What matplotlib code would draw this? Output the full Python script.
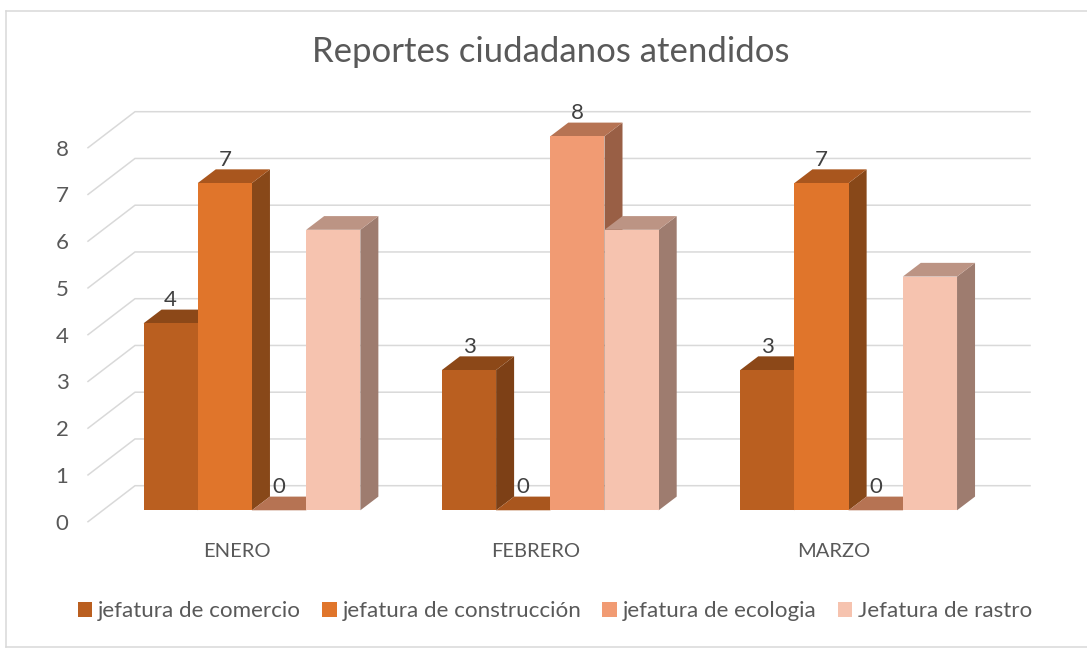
import matplotlib
matplotlib.use("Agg")
import matplotlib.pyplot as plt
from matplotlib.patches import Patch, Polygon
from matplotlib.lines import Line2D
from matplotlib.transforms import ScaledTranslation

categories = ["ENERO", "FEBRERO", "MARZO"]
series_names = ["jefatura de comercio", "jefatura de construcción",
                "jefatura de ecologia", "Jefatura de rastro"]
comercio = [4, 3, 3]
construccion = [7, 0, 7]
ecologia = [0, 8, 0]
rastro = [6, 6, 5]
series_values = [comercio, construccion, ecologia, rastro]
labelled_series = [True, True, True, False]
y_ticks = list(range(0, 9))

front_colors = ["#BA5F20", "#E0752B", "#F19B73", "#F6C3AF"]
side_colors = ["#7D4016", "#884819", "#995F45", "#9E7C6F"]
top_colors = ["#8C4818", "#A9561E", "#B67353", "#BC9484"]
GRID = "#D9D9D9"
TEXT = "#595959"
LABEL = "#404040"
FONT = "Lato"

W, H = 1087, 648
plt.rcParams["font.family"] = [FONT, "DejaVu Sans"]
fig = plt.figure(figsize=(W / 100, H / 100), dpi=100)

# Front plane of the 3-D box, in figure pixels
L, R, B, T = 88.0, 983.0, 510.3, 136.3
ax = fig.add_axes([L / W, 1 - B / H, (R - L) / W, (B - T) / H])
ax.set_xlim(-0.5, 2.5)
ax.set_ylim(0, 8)
for s in ax.spines.values():
    s.set_visible(False)

px_x = (R - L) / 3
px_y = (B - T) / 8

# Back wall gridlines and floor diagonals
wall_dx, wall_up, wall_down = 47.0 / px_x, 24.6 / px_y, 11.4 / px_y
for v in y_ticks:
    ax.plot([-0.5, -0.5 + wall_dx, 2.5 + wall_dx],
            [v - wall_down, v + wall_up, v + wall_up],
            color=GRID, lw=1.1, clip_on=False, zorder=1,
            solid_joinstyle="miter")

# Bars with faked depth
bar_w = 54.2 / px_x
shift = 14.8 / px_x
dx, dy = 18.0 / px_x, 13.7 / px_y
z = 3
for j, vals in enumerate(series_values):
    xs = [i + shift + (j - 1.5) * bar_w for i in range(len(categories))]
    for x, v in zip(xs, vals):
        xl, xr = x - bar_w / 2, x + bar_w / 2
        ax.add_patch(Polygon([(xr, 0), (xr + dx, dy), (xr + dx, v + dy), (xr, v)],
                             fc=side_colors[j], ec="none", clip_on=False, zorder=z))
        ax.add_patch(Polygon([(xl, v), (xl + dx, v + dy), (xr + dx, v + dy), (xr, v)],
                             fc=top_colors[j], ec="none", clip_on=False, zorder=z))
        if v > 0:
            ax.bar(x, v, width=bar_w, color=front_colors[j], zorder=z + 0.5,
                   clip_on=False)
    z += 1
for j, vals in enumerate(series_values):
    if not labelled_series[j]:
        continue
    xs = [i + shift + (j - 1.5) * bar_w for i in range(len(categories))]
    for x, v in zip(xs, vals):
        ax.annotate(str(v), (x, v), xytext=(0, 23.5 * 0.72), textcoords="offset points",
                    ha="center", va="center", fontsize=16, color=LABEL,
                    zorder=20, annotation_clip=False)

# Axis labels
ax.set_xticks(range(len(categories)), categories)
ax.set_yticks(y_ticks)
ax.tick_params(axis="x", length=0, pad=23.5, labelsize=14.5, labelcolor=TEXT)
ax.tick_params(axis="y", length=0, pad=14, labelsize=16, labelcolor=TEXT)
shift_lab = ScaledTranslation(0, -11.4 / 100, fig.dpi_scale_trans)
for lab in ax.get_yticklabels():
    lab.set_transform(lab.get_transform() + shift_lab)

# Title
fig.text(550.5 / W, 1 - 52.5 / H, "Reportes ciudadanos atendidos", ha="center",
         va="center", fontsize=25, color=TEXT)

# Legend
handles = [Patch(fc=c, ec="none", label=n) for c, n in zip(front_colors, series_names)]
fig.legend(handles=handles, ncol=4, frameon=False, fontsize=16.1, labelcolor=TEXT,
           loc="center", bbox_to_anchor=(555 / W, 1 - 611 / H),
           handlelength=0.64, handleheight=0.64, handletextpad=0.27,
           columnspacing=0.94, borderpad=0, borderaxespad=0)

# Chart frame (left, top and bottom edges)
for xs_, ys_ in [((6, 6), (11, 647)), ((6, W), (647, 647)), ((6, W), (11, 11))]:
    fig.add_artist(Line2D([x / W for x in xs_], [1 - y / H for y in ys_],
                          color=GRID, lw=1.1))

fig.savefig("out.png", dpi=100)
